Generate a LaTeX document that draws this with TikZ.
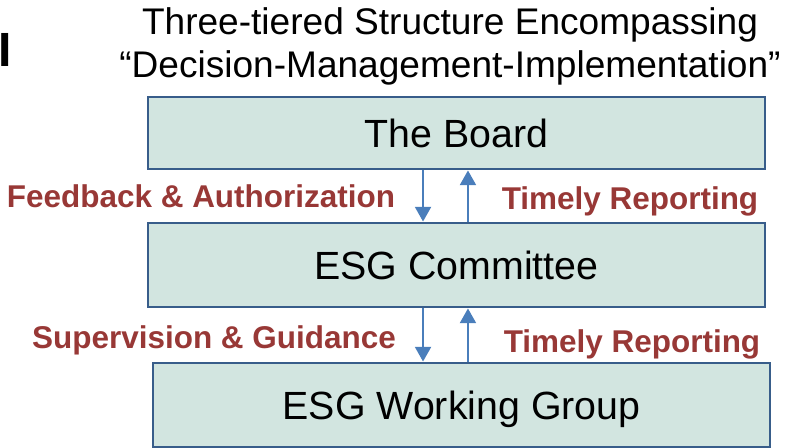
\documentclass[tikz,border=0pt]{standalone}
\usepackage{fontspec}
\setmainfont{Liberation Sans}
\usepackage{xcolor}
\usetikzlibrary{arrows.meta,positioning}

\definecolor{tierfill}{RGB}{210,229,224}
\definecolor{tierline}{RGB}{56,93,138}
\definecolor{flowblue}{RGB}{74,126,187}
\definecolor{labelred}{RGB}{152,56,54}

\begin{document}
\begin{tikzpicture}[x=0.75pt, y=-0.75pt,
  tier/.style={draw=tierline, line width=2.2pt, fill=tierfill,
    minimum width=462.75pt, inner sep=0pt, text height=21.2pt, text depth=0pt,
    font=\fontsize{29.5}{32}\selectfont},
  flow/.style={draw=flowblue, line width=1.5pt,
    -{Triangle[width=12pt, length=11pt]}},
  flowlabel/.style={text=labelred, anchor=base, inner sep=0pt,
    font=\fontsize{23.6}{27}\selectfont\bfseries},
  heading/.style={anchor=base, inner sep=0pt, font=\fontsize{27.8}{31}\selectfont}]

  \useasboundingbox (0,0) rectangle (795,448);

  % Heading
  \node[anchor=base west, inner sep=0pt, font=\fontsize{36}{36}\selectfont\bfseries] (edge) at (-2,67) {I};
  \node[heading] (title1) at (450,35) {Three-tiered Structure Encompassing};
  \node[heading] (title2) at (450,78) {“Decision-Management-Implementation”};

  % Tiers
  \node[tier, minimum height=54pt] (board) at (456.5,133) {The Board};
  \node[tier, minimum height=63pt] (committee) at (456.5,265) {ESG Committee};
  \node[tier, minimum height=63pt] (workgroup) at (461.5,405) {ESG Working Group};

  % Board <-> committee
  \draw[flow] ([xshift=-25.1pt]board.south) -- ([xshift=-25.1pt]committee.north);
  \draw[flow] ([xshift=8.6pt]committee.north) -- ([xshift=8.6pt]board.south);

  % Committee <-> working group
  \coordinate (down2) at ([xshift=-25.1pt]committee.south);
  \coordinate (up2) at ([xshift=8.6pt]committee.south);
  \draw[flow] (down2) -- (down2 |- workgroup.north);
  \draw[flow] (up2 |- workgroup.north) -- (up2);

  % Arrow labels
  \node[flowlabel] (feedback) at (201,208) {Feedback \& Authorization};
  \node[flowlabel] (report1) at (630,210) {Timely Reporting};
  \node[flowlabel] (supervise) at (214,349) {Supervision \& Guidance};
  \node[flowlabel] (report2) at (632,353) {Timely Reporting};

\end{tikzpicture}
\end{document}
